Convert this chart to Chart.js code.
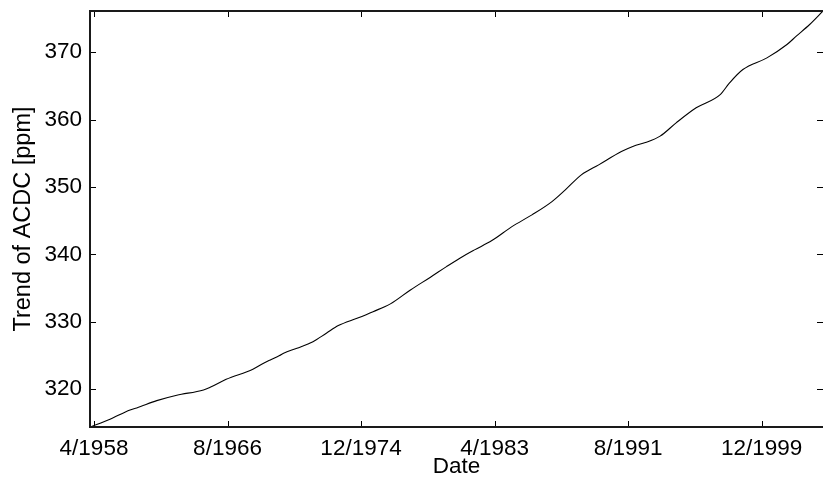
<!DOCTYPE html>
<html>
<head>
<meta charset="utf-8">
<script src="https://cdn.jsdelivr.net/npm/chart.js@4/dist/chart.umd.min.js"></script>
<style>
  html, body { margin: 0; padding: 0; background: #fff; overflow: hidden; }
  #wrap { width: 823px; height: 484px; }
</style>
</head>
<body>
<div id="wrap"><canvas id="c" width="823" height="484"></canvas></div>
<script>
// Months since Jan 1958
const months = [0, 15, 30, 35, 50, 65, 85, 90, 102, 122, 130, 135, 142, 145, 155, 167, 177, 186, 200, 212, 225, 240, 255, 267, 277, 288, 301, 316, 331, 346, 356, 368, 381, 398, 407, 416, 427, 439, 454, 472, 479, 489, 507, 522, 529, 539, 549];
// Trend of ACDC [ppm]
const trend = [314.4, 315.55, 316.93, 317.23, 318.31, 319.11, 319.9, 320.3, 321.48, 322.97, 323.86, 324.35, 325.0, 325.34, 326.08, 327.06, 328.31, 329.44, 330.53, 331.51, 332.66, 334.73, 336.62, 338.19, 339.44, 340.67, 342.05, 344.12, 345.86, 347.83, 349.57, 351.8, 353.28, 355.25, 356.05, 356.59, 357.54, 359.51, 361.74, 363.71, 365.44, 367.42, 369.15, 371.13, 372.37, 374.1, 376.1];
const xTickMonths = [3, 103, 203, 303, 403, 503];
const xTickLabels = ['4/1958', '8/1966', '12/1974', '4/1983', '8/1991', '12/1999'];
const yTickValues = [320, 330, 340, 350, 360, 370];
const xMin = 0, xMax = 549;
const yMin = 314.4, yMax = 376.1;

const points = months.map((m, i) => ({ x: m, y: trend[i] }));
const FONT = "'Liberation Sans', Arial, Helvetica, sans-serif";

const boxPlugin = {
  id: 'box',
  afterDatasetsDraw(chart) {
    const { ctx, chartArea: a, scales: { x, y } } = chart;
    ctx.save();
    ctx.strokeStyle = '#000';
    ctx.lineWidth = 1;
    const seg = (x1, y1, x2, y2) => { ctx.beginPath(); ctx.moveTo(x1, y1); ctx.lineTo(x2, y2); ctx.stroke(); };
    xTickMonths.forEach(m => {
      const px = Math.round(x.getPixelForValue(m)) + 0.5;
      seg(px, a.bottom, px, a.bottom - 6);
      seg(px, a.top, px, a.top + 6);
    });
    yTickValues.forEach(v => {
      const py = Math.round(y.getPixelForValue(v)) + 0.5;
      seg(a.left, py, a.left + 6, py);
      seg(a.right, py, a.right - 6, py);
    });
    ctx.lineWidth = 2;
    ctx.strokeStyle = '#1a1a1a';
    ctx.beginPath();
    ctx.moveTo(a.right + 2, a.top);
    ctx.lineTo(a.left, a.top);
    ctx.lineTo(a.left, a.bottom);
    ctx.lineTo(a.right + 2, a.bottom);
    ctx.stroke();
    ctx.restore();
  }
};

new Chart(document.getElementById('c'), {
  type: 'line',
  data: {
    datasets: [{
      data: points,
      borderColor: '#000',
      borderWidth: 1.1,
      pointRadius: 0,
      fill: false,
      cubicInterpolationMode: 'monotone'
    }]
  },
  options: {
    responsive: false,
    animation: false,
    devicePixelRatio: 1,
    layout: { padding: { top: 11, right: 0, left: 0, bottom: 0 } },
    plugins: { legend: { display: false }, tooltip: { enabled: false } },
    scales: {
      x: {
        type: 'linear',
        min: xMin, max: xMax,
        grid: { display: false, drawTicks: false },
        border: { display: false },
        afterBuildTicks(scale) { scale.ticks = xTickMonths.map(v => ({ value: v })); },
        afterFit(scale) { scale.height = 57; scale.paddingLeft = 0; scale.paddingRight = 0; },
        ticks: {
          autoSkip: false, maxRotation: 0, padding: 8,
          color: '#000',
          font: { family: FONT, size: 22.5 },
          callback: (v, i) => xTickLabels[i]
        },
        title: {
          display: true, text: 'Date', color: '#000',
          font: { family: FONT, size: 22.5 },
          padding: { top: 0, bottom: 4 }
        }
      },
      y: {
        type: 'linear',
        min: yMin, max: yMax,
        grid: { display: false, drawTicks: false },
        border: { display: false },
        afterBuildTicks(scale) { scale.ticks = yTickValues.map(v => ({ value: v })); },
        afterFit(scale) { scale.width = 90; scale.paddingTop = 0; scale.paddingBottom = 0; },
        ticks: {
          autoSkip: false, padding: 8,
          color: '#000',
          font: { family: FONT, size: 22.5 },
          callback: v => String(v)
        },
        title: {
          display: true, text: 'Trend of ACDC [ppm]', color: '#000',
          font: { family: FONT, size: 23.5 },
          padding: { top: 9, bottom: 0 }
        }
      }
    }
  },
  plugins: [boxPlugin]
});
</script>
</body>
</html>
